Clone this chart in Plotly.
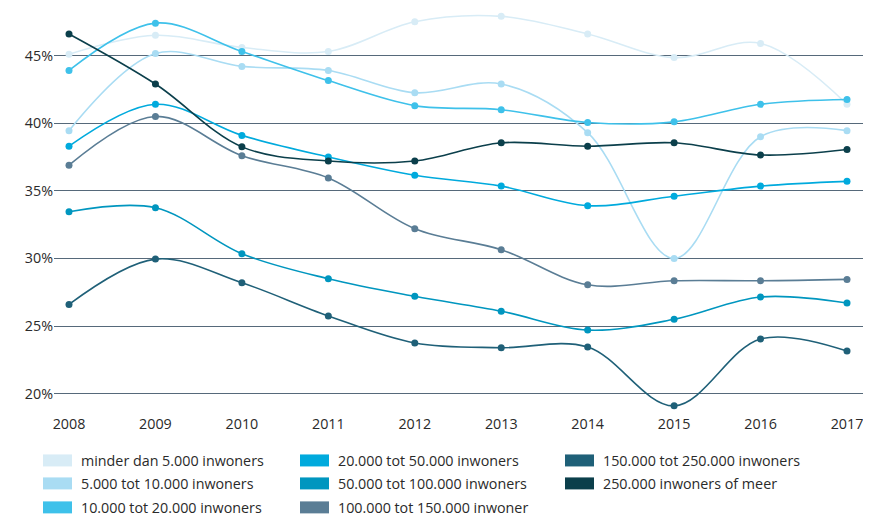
import plotly.graph_objects as go

years = [2008, 2009, 2010, 2011, 2012, 2013, 2014, 2015, 2016, 2017]

labels = [
    "minder dan 5.000 inwoners",
    "5.000 tot 10.000 inwoners",
    "10.000 tot 20.000 inwoners",
    "20.000 tot 50.000 inwoners",
    "50.000 tot 100.000 inwoners",
    "100.000 tot 150.000 inwoner",
    "150.000 tot 250.000 inwoners",
    "250.000 inwoners of meer",
]

s_lt5k = [45.1, 46.5, 45.6, 45.3, 47.5, 47.9, 46.6, 44.85, 45.9, 41.4]
s_5_10k = [39.45, 45.15, 44.2, 43.9, 42.25, 42.9, 39.3, 30.0, 39.0, 39.45]
s_10_20k = [43.9, 47.4, 45.3, 43.15, 41.3, 41.0, 40.05, 40.1, 41.4, 41.75]
s_20_50k = [38.3, 41.4, 39.1, 37.5, 36.15, 35.35, 33.9, 34.6, 35.35, 35.7]
s_50_100k = [33.45, 33.75, 30.35, 28.5, 27.2, 26.1, 24.7, 25.5, 27.15, 26.7]
s_100_150k = [36.9, 40.5, 37.6, 35.95, 32.2, 30.65, 28.05, 28.35, 28.35, 28.45]
s_150_250k = [26.6, 29.95, 28.2, 25.75, 23.75, 23.4, 23.45, 19.1, 24.05, 23.15]
s_250k = [46.6, 42.9, 38.25, 37.2, 37.2, 38.55, 38.3, 38.55, 37.65, 38.05]

series = [s_lt5k, s_5_10k, s_10_20k, s_20_50k, s_50_100k, s_100_150k, s_150_250k, s_250k]
colors = ["#d8ecf6", "#a9dcf3", "#3ec1ea", "#00aadd", "#0096bf", "#5a7d95", "#1f6078", "#0b3f4b"]

y_ticks = [20, 25, 30, 35, 40, 45]
y_ticktext = ["20%", "25%", "30%", "35%", "40%", "45%"]

# page body has an 8px margin; work in window pixels and shift
OFF = 8
W, H = 871 - OFF, 518 - OFF
PL, PR, PT, PB = 54, 871, 5, 414.5   # plot area in window pixels
ML, MR, MT, MB = PL - OFF, 871 - PR, PT - OFF, 518 - PB
MT = max(MT, 0)
PW = W - ML - MR
PH = H - MT - MB

TXT = "#2a2a2a"
FS = 14.3

fig = go.Figure()
for name, vals, col in zip(labels, series, colors):
    fig.add_trace(go.Scatter(
        x=years, y=vals, name=name, mode="lines+markers",
        line=dict(color=col, width=1.6, shape="spline", smoothing=1.0),
        marker=dict(color=col, size=7),
        showlegend=False, cliponaxis=False,
    ))

def px_x(p):
    return (p - OFF - ML) / PW

def px_y(p):
    return (MT + PH - (p - OFF)) / PH

# manual legend: 3 columns filled column-wise
col_x = [43, 300, 565]
row_y = [461, 484, 508]
shapes = []
annotations = []
for i, (name, col) in enumerate(zip(labels, colors)):
    c, r = divmod(i, 3)
    x0 = col_x[c]
    yc = row_y[r]
    shapes.append(dict(type="rect", xref="paper", yref="paper",
                       x0=px_x(x0), x1=px_x(x0 + 29),
                       y0=px_y(yc + 6), y1=px_y(yc - 6),
                       fillcolor=col, line=dict(width=0)))
    annotations.append(dict(xref="paper", yref="paper", x=px_x(x0 + 36), y=px_y(yc),
                            text=name, showarrow=False, xanchor="left", yanchor="middle",
                            font=dict(size=FS, color=TXT, family="Open Sans")))

# x range so that 2008 sits at 69px and 2017 at 847px
xs = (847 - 69) / 9.0
x_lo = 2008 - (69 - PL) / xs
x_hi = 2017 + (PR - 847) / xs
# y range so that 45% sits at 53px and 20% at 394px
ys = (394 - 53) / 25.0
y_hi = 45 + (53 - PT) / ys
y_lo = 20 - (PB - 394) / ys

fig.update_layout(
    width=W, height=H,
    margin=dict(l=ML, r=MR, t=MT, b=MB, pad=0),
    paper_bgcolor="white", plot_bgcolor="white",
    font=dict(family="Open Sans", size=FS, color=TXT),
    shapes=shapes, annotations=annotations,
    xaxis=dict(range=[x_lo, x_hi], tickvals=years, showgrid=False,
               zeroline=False, showline=False, ticks="",
               tickfont=dict(size=FS, color=TXT)),
    yaxis=dict(range=[y_lo, y_hi], tickmode="array", tickvals=y_ticks, ticktext=y_ticktext,
               showgrid=True, gridcolor="#56697a", gridwidth=1,
               zeroline=False, showline=False, ticks="",
               tickfont=dict(size=FS, color=TXT)),
)

fig.write_html("out.html")
